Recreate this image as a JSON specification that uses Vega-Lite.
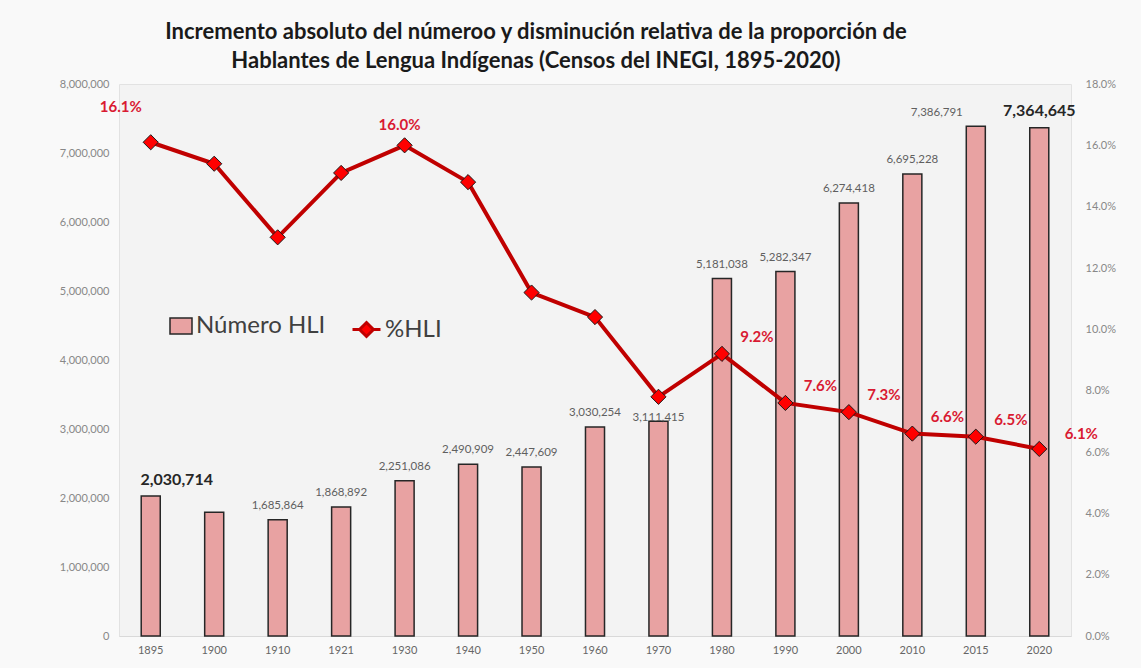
{
  "$schema": "https://vega.github.io/schema/vega-lite/v6.json",
  "width": 952,
  "height": 552,
  "autosize": {"type": "none"},
  "padding": {"left": 119, "top": 84, "right": 70, "bottom": 32},
  "background": "#f9f9f9",
  "config": {
    "font": "Lato",
    "view": {"fill": "#f3f3f3", "stroke": "#e2e2e2"}
  },
  "title": {
    "text": ["Incremento absoluto del númeroo y disminución relativa de la proporción de", "Hablantes de Lengua Indígenas (Censos del INEGI, 1895-2020)"],
    "font": "Lato",
    "fontSize": 22,
    "fontWeight": "bold",
    "color": "#1a1a1a",
    "lineHeight": 29,
    "anchor": "middle",
    "dx": -59,
    "offset": 5
  },
  "data": {
    "values": [
      {"year": "1895", "num": 2030714, "pct": 0.161},
      {"year": "1900", "num": 1794293, "pct": 0.154},
      {"year": "1910", "num": 1685864, "pct": 0.130},
      {"year": "1921", "num": 1868892, "pct": 0.151},
      {"year": "1930", "num": 2251086, "pct": 0.160},
      {"year": "1940", "num": 2490909, "pct": 0.148},
      {"year": "1950", "num": 2447609, "pct": 0.112},
      {"year": "1960", "num": 3030254, "pct": 0.104},
      {"year": "1970", "num": 3111415, "pct": 0.078},
      {"year": "1980", "num": 5181038, "pct": 0.092},
      {"year": "1990", "num": 5282347, "pct": 0.076},
      {"year": "2000", "num": 6274418, "pct": 0.073},
      {"year": "2010", "num": 6695228, "pct": 0.066},
      {"year": "2015", "num": 7386791, "pct": 0.065},
      {"year": "2020", "num": 7364645, "pct": 0.061}
    ]
  },
  "encoding": {
    "x": {
      "field": "year",
      "type": "ordinal",
      "sort": null,
      "scale": {"paddingInner": 0.7, "paddingOuter": 0.35},
      "axis": {
        "title": null,
        "labelAngle": 0,
        "labelFontSize": 11,
        "labelColor": "#666666",
        "labelPadding": 8,
        "ticks": false,
        "domainColor": "#d9d9d9",
        "domainWidth": 1
      }
    }
  },
  "layer": [
    {
      "encoding": {
        "y": {
          "field": "num",
          "type": "quantitative",
          "scale": {"domain": [0, 8000000]},
          "axis": {
            "title": null,
            "orient": "left",
            "values": [0, 1000000, 2000000, 3000000, 4000000, 5000000, 6000000, 7000000, 8000000],
            "format": ",.0f",
            "labelFontSize": 11,
            "labelColor": "#888888",
            "labelPadding": 10,
            "ticks": false,
            "domain": false,
            "grid": false
          }
        }
      },
      "layer": [
        {
          "mark": {"type": "bar", "stroke": "#262626", "strokeWidth": 1.5},
          "encoding": {
            "fill": {
              "datum": "Número HLI",
              "type": "nominal",
              "scale": {"domain": ["Número HLI"], "range": ["#e8a2a2"]},
              "legend": {
                "title": null,
                "orient": "none",
                "legendX": 50,
                "legendY": 230,
                "symbolType": "M-1,-0.72H1V0.72H-1Z",
                "symbolSize": 484,
                "labelFontSize": 24,
                "labelColor": "#404040",
                "labelOffset": 3,
                "encode": {"symbols": {"update": {"stroke": {"value": "#262626"}, "strokeWidth": {"value": 1.5}, "fill": {"value": "#e8a2a2"}, "opacity": {"value": 1}}}}
              }
            }
          }
        },
        {
          "transform": [{"filter": "indexof(['1900','1895','2015','2020','1970'], datum.year) < 0"}],
          "mark": {"type": "text", "dy": -14, "fontSize": 11.5, "color": "#5f5f5f"},
          "encoding": {"text": {"field": "num", "type": "quantitative", "format": ",.0f"}}
        },
        {
          "transform": [{"filter": "datum.year == '1970'"}],
          "mark": {"type": "text", "dy": -3, "fontSize": 11.5, "color": "#5f5f5f"},
          "encoding": {"text": {"field": "num", "type": "quantitative", "format": ",.0f"}}
        },
        {
          "transform": [{"filter": "datum.year == '2015'"}],
          "mark": {"type": "text", "dx": -39, "dy": -13, "fontSize": 11.5, "color": "#5f5f5f"},
          "encoding": {"text": {"field": "num", "type": "quantitative", "format": ",.0f"}}
        },
        {
          "transform": [{"filter": "datum.year == '1895'"}],
          "mark": {"type": "text", "dx": 26, "dy": -16, "fontSize": 16, "fontWeight": "bold", "color": "#262626"},
          "encoding": {"text": {"field": "num", "type": "quantitative", "format": ",.0f"}}
        },
        {
          "transform": [{"filter": "datum.year == '2020'"}],
          "mark": {"type": "text", "dx": 0, "dy": -17, "fontSize": 16, "fontWeight": "bold", "color": "#262626"},
          "encoding": {"text": {"field": "num", "type": "quantitative", "format": ",.0f"}}
        }
      ]
    },
    {
      "encoding": {
        "y": {
          "field": "pct",
          "type": "quantitative",
          "scale": {"domain": [0, 0.18]},
          "axis": {
            "title": null,
            "orient": "right",
            "values": [0, 0.02, 0.04, 0.06, 0.08, 0.1, 0.12, 0.14, 0.16, 0.18],
            "format": ".1%",
            "labelFontSize": 11,
            "labelColor": "#888888",
            "labelPadding": 14,
            "ticks": false,
            "domain": false,
            "grid": false
          }
        }
      },
      "layer": [
        {
          "mark": {"type": "line", "strokeWidth": 4},
          "encoding": {
            "stroke": {
              "datum": "%HLI",
              "type": "nominal",
              "scale": {"domain": ["%HLI"], "range": ["#c00000"]},
              "legend": {
                "title": null,
                "orient": "none",
                "legendX": 232,
                "legendY": 230,
                "symbolType": "M-1,0H-0.5L0,-0.5L0.5,0H1M0.5,0L0,0.5L-0.5,0",
                "symbolSize": 784,
                "labelFontSize": 24,
                "labelColor": "#404040",
                "labelOffset": 3,
                "encode": {"symbols": {"update": {"stroke": {"value": "#c00000"}, "strokeWidth": {"value": 3}, "fill": {"value": "#ff0000"}, "opacity": {"value": 1}}}}
              }
            }
          }
        },
        {
          "mark": {"type": "point", "shape": "diamond", "size": 230, "filled": true, "fill": "#ff0000", "stroke": "#1a1a1a", "strokeWidth": 1, "opacity": 1}
        },
        {
          "transform": [{"filter": "indexof(['1980','1990','2000','2010','2015'], datum.year) >= 0"}],
          "mark": {"type": "text", "dx": 35, "dy": -17, "fontSize": 15, "fontWeight": "bold", "color": "#d91a32"},
          "encoding": {"text": {"field": "pct", "type": "quantitative", "format": ".1%"}}
        },
        {
          "transform": [{"filter": "datum.year == '2020'"}],
          "mark": {"type": "text", "dx": 42, "dy": -15, "fontSize": 15, "fontWeight": "bold", "color": "#d91a32"},
          "encoding": {"text": {"field": "pct", "type": "quantitative", "format": ".1%"}}
        },
        {
          "transform": [{"filter": "datum.year == '1895'"}],
          "mark": {"type": "text", "dx": -30, "dy": -35, "fontSize": 15, "fontWeight": "bold", "color": "#d91a32"},
          "encoding": {"text": {"field": "pct", "type": "quantitative", "format": ".1%"}}
        },
        {
          "transform": [{"filter": "datum.year == '1930'"}],
          "mark": {"type": "text", "dx": -5, "dy": -20, "fontSize": 15, "fontWeight": "bold", "color": "#d91a32"},
          "encoding": {"text": {"field": "pct", "type": "quantitative", "format": ".1%"}}
        }
      ]
    }
  ],
  "resolve": {"scale": {"y": "independent", "fill": "independent", "stroke": "independent"}}
}
